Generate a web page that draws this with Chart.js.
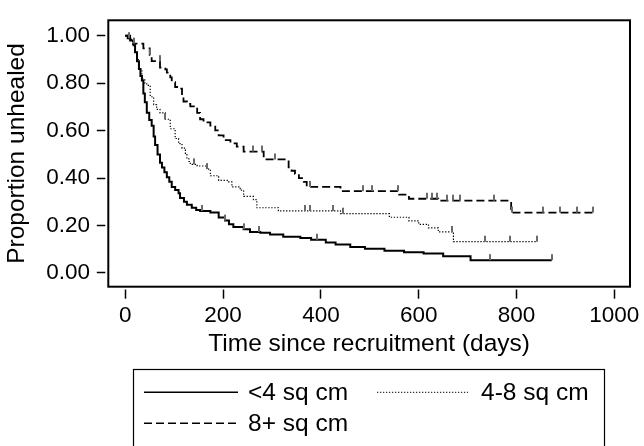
<!DOCTYPE html>
<html><head><meta charset="utf-8">
<script src="https://cdn.jsdelivr.net/npm/chart.js@4.4.0/dist/chart.umd.min.js"></script>
<style>html,body{margin:0;padding:0;background:#fff;}#wrap{width:644px;height:446px;}</style>
</head><body><div id="wrap"><canvas id="c" width="644" height="446"></canvas></div>
<script>
const seriesLabels = ['<4 sq cm', '4-8 sq cm', '8+ sq cm'];

const smallDays = [0,5,10,17,20,24,28,31,34,37,40,44,49,54,58,61,66,71,75,80,85,90,95,102,109,112,120,126,136,145,153,174,191,204,212,221,242,255,276,296,323,358,380,410,430,460,490,530,570,610,650,706,872];
const smallSurv = [1,0.99,0.98,0.96,0.93,0.893,0.86,0.83,0.811,0.757,0.72,0.675,0.645,0.621,0.575,0.54,0.50,0.465,0.445,0.425,0.404,0.385,0.363,0.35,0.336,0.316,0.30,0.288,0.275,0.265,0.2615,0.2546,0.234,0.221,0.205,0.1935,0.184,0.173,0.17,0.162,0.153,0.148,0.14,0.128,0.12,0.11,0.102,0.094,0.087,0.082,0.071,0.054,0.054];
const smallCensor = [8,157,204,242,274,392,746,872];

const midDays = [0,8,15,20,24,27,34,40,44,51,58,64,71,82,92,102,109,116,123,126,130,133,147,167,174,191,211,218,235,242,262,269,313,440,540,580,600,620,640,671,841];
const midSurv = [1,0.985,0.96,0.93,0.90,0.86,0.818,0.80,0.791,0.743,0.71,0.69,0.675,0.648,0.608,0.567,0.545,0.526,0.499,0.4855,0.47,0.458,0.451,0.438,0.41,0.39,0.384,0.363,0.349,0.3226,0.309,0.275,0.2615,0.25,0.235,0.22,0.205,0.19,0.173,0.132,0.132];
const midCensor = [82,140,167,368,378,425,446,668,736,787,841];

const largeDays = [0,10,17,37,50,54,71,82,85,92,95,102,112,116,119,126,133,147,153,160,174,184,191,201,215,228,242,283,334,340,347,355,365,371,440,560,580,640,789,957];
const largeSurv = [1,0.985,0.967,0.947,0.92,0.893,0.8656,0.858,0.845,0.825,0.8045,0.784,0.777,0.75,0.723,0.713,0.7026,0.675,0.648,0.6346,0.621,0.601,0.58,0.56,0.5466,0.533,0.512,0.4786,0.445,0.431,0.4175,0.40,0.384,0.363,0.345,0.33,0.313,0.305,0.2546,0.2546];
const largeCensor = [17,51,70,262,279,307,378,487,504,557,616,627,637,657,671,685,753,790,855,889,923,957];

const xTickValues = [0,200,400,600,800,1000];
const yTickValues = [0,0.2,0.4,0.6,0.8,1.0];
const yTickLabels = ['0.00','0.20','0.40','0.60','0.80','1.00'];
const xTitle = 'Time since recruitment (days)';
const yTitle = 'Proportion unhealed';

const FONT = 'Liberation Sans, Arial, Helvetica, sans-serif';

function curvePoints(days, surv){ return days.map((d,i)=>({x:d,y:surv[i]})); }
function stepValue(days, surv, t){ let v = surv[0]; for(let i=0;i<days.length;i++){ if(days[i]<=t) v = surv[i]; } return v; }
function censorPoints(days, surv, cens){ return cens.map(t=>({x:t,y:stepValue(days,surv,t)})); }

const tickImg = (function(){ const c=document.createElement('canvas'); c.width=2; c.height=14; const g=c.getContext('2d'); g.fillStyle='#6a6a6a'; g.fillRect(0,1,2,6); return c; })();

const styles = [
  {borderWidth:2, borderDash:[]},
  {borderWidth:1.2, borderDash:[1.3,1.7]},
  {borderWidth:1.8, borderDash:[8,4]}
];

const curves = [
  curvePoints(smallDays, smallSurv),
  curvePoints(midDays, midSurv),
  curvePoints(largeDays, largeSurv)
];
const censors = [
  censorPoints(smallDays, smallSurv, smallCensor),
  censorPoints(midDays, midSurv, midCensor),
  censorPoints(largeDays, largeSurv, largeCensor)
];

const datasets = [];
for(let i=0;i<3;i++){
  datasets.push({type:'line', label:seriesLabels[i], data:curves[i], borderColor:'#000', borderWidth:styles[i].borderWidth, borderDash:styles[i].borderDash, stepped:'before', pointRadius:0, fill:false, tension:0, order:2});
}
for(let i=0;i<3;i++){
  datasets.push({type:'scatter', label:'censor'+i, data:censors[i], pointStyle:tickImg, pointRadius:4, showLine:false, order:1});
}

const framePlugin = {
  id:'frame',
  afterDatasetsDraw(chart){
    const {ctx, chartArea:a} = chart;
    ctx.save(); ctx.strokeStyle='#000'; ctx.lineWidth=2;
    ctx.strokeRect(a.left, a.top, a.right-a.left, a.bottom-a.top);
    ctx.restore();
  }
};

const legendPlugin = {
  id:'boxLegend',
  afterDraw(chart){
    const ctx = chart.ctx;
    ctx.save();
    ctx.strokeStyle='#000'; ctx.lineWidth=1.2;
    ctx.strokeRect(133.5, 369.5, 471, 100);
    const items = [
      {ds:0, x1:144, x2:238, tx:248, y:392.3},
      {ds:1, x1:377, x2:468, tx:481, y:392.3},
      {ds:2, x1:144, x2:238, tx:248, y:423.3}
    ];
    ctx.font = '24.5px ' + FONT;
    ctx.textBaseline = 'middle';
    ctx.fillStyle = '#000';
    items.forEach(it=>{
      const d = chart.data.datasets[it.ds];
      ctx.save();
      ctx.lineWidth = it.ds===0 ? 1.6 : (it.ds===1 ? 1 : 1.6);
      ctx.setLineDash(d.borderDash || []);
      ctx.beginPath(); ctx.moveTo(it.x1, it.y); ctx.lineTo(it.x2, it.y); ctx.stroke();
      ctx.restore();
      ctx.fillText(d.label, it.tx, it.y + 1);
    });
    ctx.restore();
  }
};

new Chart(document.getElementById('c'), {
  data:{datasets},
  plugins:[framePlugin, legendPlugin],
  options:{
    responsive:false, animation:false, devicePixelRatio:1,
    layout:{padding:{left:0, top:11, right:14, bottom:79.3}},
    plugins:{legend:{display:false}, tooltip:{enabled:false}},
    scales:{
      x:{type:'linear', min:-34.7, max:1032,
        afterBuildTicks:s=>{ s.ticks = xTickValues.map(v=>({value:v})); },
        afterFit:s=>{ s.height = 80; },
        ticks:{font:{family:FONT, size:22.5}, color:'#000', padding:4, maxRotation:0, autoSkip:false, callback:v=>String(v)},
        grid:{drawOnChartArea:false, drawTicks:true, tickLength:12, tickWidth:1.5, tickColor:'#000', tickBorderDash:[9.5,2.5], tickBorderDashOffset:9.5},
        border:{display:false},
        title:{display:true, text:xTitle, color:'#000', font:{family:FONT, size:24.5}, padding:{top:0, bottom:7.5}}
      },
      y:{type:'linear', min:-0.0578, max:1.0652,
        afterBuildTicks:s=>{ s.ticks = yTickValues.map(v=>({value:v})); },
        afterFit:s=>{ s.width = 108.3; },
        ticks:{font:{family:FONT, size:22.5}, color:'#000', padding:6.8, autoSkip:false,
          callback:(v)=>{ const i = yTickValues.findIndex(t=>Math.abs(t-v)<1e-9); return i>=0 ? yTickLabels[i] : ''; }},
        grid:{drawOnChartArea:false, drawTicks:true, tickLength:11.5, tickWidth:1.5, tickColor:'#000', tickBorderDash:[8.5,3], tickBorderDashOffset:0},
        border:{display:false},
        title:{display:true, text:yTitle, color:'#000', font:{family:FONT, size:24.5}, padding:{top:2.3, bottom:0}}
      }
    }
  }
});
</script></body></html>
